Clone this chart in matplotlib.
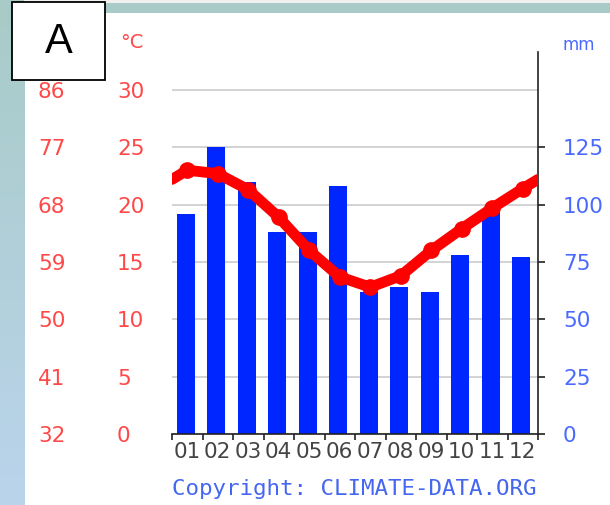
import numpy as np
import matplotlib
matplotlib.use('Agg')
import matplotlib.pyplot as plt
from matplotlib.patches import Rectangle

# 月ごとのデータ
months = ['01', '02', '03', '04', '05', '06', '07', '08', '09', '10', '11', '12']
precip_mm = [96, 125, 110, 88, 88, 108, 62, 64, 62, 78, 97, 77]
temp_c = [23.0, 22.7, 21.3, 18.9, 16.0, 13.7, 12.8, 13.8, 16.0, 17.9, 19.7, 21.4]
c_ticks = [0, 5, 10, 15, 20, 25, 30]
f_ticks = [32, 41, 50, 59, 68, 77, 86]
mm_ticks = [0, 25, 50, 75, 100, 125]

RED_TXT = '#ff4848'
BLUE_TXT = '#4a6aff'


def main():
    plt.rcParams['font.family'] = ['DejaVu Sans']
    W, H = 610, 505
    fig = plt.figure(figsize=(W/100, H/100), dpi=100)
    fig.patch.set_facecolor('white')

    # 背景 (左の帯と上の帯)
    bg = fig.add_axes([0, 0, 24/W, 1])
    grad = np.linspace(0, 1, 256).reshape(-1, 1)
    cmap = matplotlib.colors.LinearSegmentedColormap.from_list('bg', ['#a8cbc7', '#bad4ec'])
    bg.imshow(grad, aspect='auto', cmap=cmap, extent=[0, 1, 0, 1], origin='upper')
    bg.set_axis_off()
    fig.patches.append(Rectangle((24/W, 1-3/H), 1, 3/H, transform=fig.transFigure,
                                 facecolor='#f0f0f0', edgecolor='none', zorder=0))
    fig.patches.append(Rectangle((24/W, 1-12.5/H), 1, 9.5/H, transform=fig.transFigure,
                                 facecolor='#a8cbc8', edgecolor='none', zorder=0))

    # メインの軸
    left, right = 172/W, 538/W
    bottom, top = 1-434/H, 1-51.7/H
    ax = fig.add_axes([left, bottom, right-left, top-bottom])
    ax2 = ax.twinx()
    ax.set_zorder(ax2.get_zorder()+1)
    ax.patch.set_visible(False)

    tmax = 30*10/9.
    ax.set_ylim(0, tmax)
    ax2.set_ylim(0, tmax*5)
    ax.set_xlim(0.5, 12.5)

    x = np.arange(1, 13)
    ax2.bar(x-0.05, precip_mm, width=0.58, color='#0026ff', zorder=2)

    # 気温の線 (両端は12月と1月の平均)
    edge = (temp_c[0]+temp_c[-1])/2.
    xl = np.concatenate([[0.5], x, [12.5]])
    yl = np.concatenate([[edge], temp_c, [edge]])
    ax.plot(xl, yl, color='#ff0000', lw=7.8, solid_capstyle='round', solid_joinstyle='round')
    ax.plot(x, temp_c, 'o', color='#ff0000', ms=11)

    # 軸・目盛り
    for s in ['left', 'top', 'right']:
        ax.spines[s].set_visible(False)
    for s in ['left', 'top', 'bottom']:
        ax2.spines[s].set_visible(False)
    ax.spines['bottom'].set_color('#222222')
    ax.spines['bottom'].set_linewidth(1.2)
    ax2.spines['right'].set_color('#222222')
    ax2.spines['right'].set_linewidth(1.2)

    ax.set_xticks(np.arange(0.5, 13, 1))
    ax.set_xticklabels([])
    ax.set_xticks(x, minor=True)
    ax.set_xticklabels(months, minor=True, fontsize=15.5, color='#444444')
    ax.tick_params(axis='x', which='major', direction='out', length=4, width=1.2, color='#222222')
    ax.tick_params(axis='x', which='minor', length=0, pad=6)

    ax.set_yticks(c_ticks)
    ax.set_yticklabels([str(v) for v in c_ticks], fontsize=15.5, color=RED_TXT)
    ax.tick_params(axis='y', length=0, pad=39.6)
    for t in ax.get_yticklabels():
        t.set_horizontalalignment('left')

    sec = ax.secondary_yaxis('left', functions=(lambda c: c*9/5.+32, lambda f: (f-32)*5/9.))
    sec.set_yticks(f_ticks)
    sec.set_yticklabels([str(v) for v in f_ticks], fontsize=15.5, color=RED_TXT)
    sec.tick_params(axis='y', length=0, pad=96.5)
    sec.spines['left'].set_visible(False)
    for t in sec.get_yticklabels():
        t.set_horizontalalignment('left')

    ax2.set_yticks(mm_ticks)
    ax2.set_yticklabels([str(v) for v in mm_ticks], fontsize=15.5, color=BLUE_TXT)
    ax2.tick_params(axis='y', which='major', direction='out', length=5, width=1.2,
                    color='#222222', pad=13)

    # グリッド (気温の目盛りに合わせる)
    extra = [v*5 for v in c_ticks if v*5 not in mm_ticks]
    ax2.set_yticks(extra, minor=True)
    ax2.tick_params(which='minor', length=0)
    ax2.grid(which='both', color='#c8c8c8', lw=1.1)
    ax2.set_axisbelow(True)

    # 単位と著作権表示
    fig.text(120/W, 1-43/H, '°C', fontsize=14, color=RED_TXT, ha='left', va='center')
    fig.text(563/W, 1-45/H, 'mm', fontsize=12, color=BLUE_TXT, ha='left', va='center')
    fig.text(172/W, 1-489/H, 'Copyright: CLIMATE-DATA.ORG', fontsize=16.2, color='#4466f0',
             family='DejaVu Sans Mono', ha='left', va='center')

    # 「A」のラベル
    fig.patches.append(Rectangle((12/W, 1-80/H), 93/W, 78/H, transform=fig.transFigure,
                                 facecolor='white', edgecolor='black', lw=1.3, zorder=5))
    fig.text(58.5/W, 1-42/H, 'A', fontsize=30, family='Liberation Sans', ha='center',
             va='center', zorder=6)

    plt.savefig('out.png', dpi=100)


if __name__ == '__main__':
    main()
